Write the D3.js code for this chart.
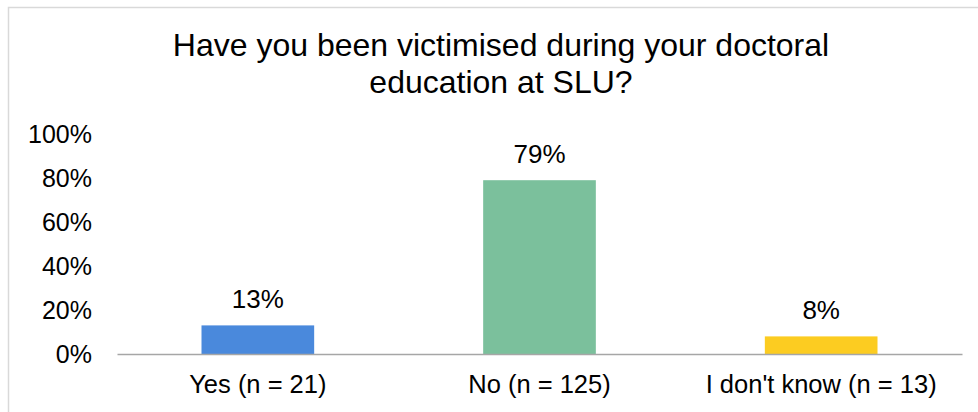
<!DOCTYPE html>
<html>
<head>
<meta charset="utf-8">
<script src="https://cdn.jsdelivr.net/npm/d3@7"></script>
<style>
  body { margin: 0; background: #fff; }
  text { font-family: "Liberation Sans", Arial, sans-serif; fill: #000; }
</style>
</head>
<body>
<div id="chart"></div>
<script>
"use strict";

// chart values
const categories = ["Yes (n = 21)", "No (n = 125)", "I don't know (n = 13)"];
const shares = [0.13, 0.79, 0.08];
const barColors = ["#4a89dc", "#7bc09c", "#fccc21"];
const yTicks = [0, 0.2, 0.4, 0.6, 0.8, 1.0];
const titleLines = ["Have you been victimised during your doctoral", "education at SLU?"];

const msm = {
    width: 978,
    height: 412,
    left: 117,
    right: 962,
    top: 134,
    bottom: 354
}

let svg = d3.select("#chart")
    .append("svg")
    .attr("width", msm.width)
    .attr("height", msm.height);

// light frame round the chart area
svg.append("rect")
    .attr("x", 8.5)
    .attr("y", 7.5)
    .attr("width", 1000)
    .attr("height", 500)
    .attr("fill", "none")
    .attr("stroke", "#d9d9d9")
    .attr("stroke-width", 1.5);

// title
svg.selectAll(".title")
    .data(titleLines)
    .enter()
    .append("text")
    .attr("class", "title")
    .attr("x", 501)
    .attr("y", (d, i) => 56 + i * 37)
    .attr("text-anchor", "middle")
    .style("font-size", "32px")
    .text(d => d);

let xScale = d3.scaleBand()
    .domain(categories)
    .range([msm.left, msm.right])
    .paddingInner(0.6)
    .paddingOuter(0.3);

let yScale = d3.scaleLinear()
    .domain([0, 1])
    .range([msm.bottom, msm.top]);

// y axis labels only, no line
let yAxis = d3.axisLeft(yScale)
    .tickValues(yTicks)
    .tickFormat(d3.format(".0%"))
    .tickSize(0)
    .tickPadding(0);
let gy = svg.append("g")
    .attr("transform", "translate(92,0)")
    .call(yAxis);
gy.select(".domain").remove();
gy.selectAll("text")
    .style("font-size", "25px")
    .attr("font-family", null)
    .attr("dy", "0.35em");

// bars
svg.selectAll(".bar")
    .data(shares)
    .enter()
    .append("rect")
    .attr("class", "bar")
    .attr("x", (d, i) => xScale(categories[i]))
    .attr("y", d => yScale(d))
    .attr("width", xScale.bandwidth())
    .attr("height", d => yScale(0) - yScale(d))
    .attr("fill", (d, i) => barColors[i]);

// value labels
svg.selectAll(".val")
    .data(shares)
    .enter()
    .append("text")
    .attr("class", "val")
    .attr("x", (d, i) => xScale(categories[i]) + xScale.bandwidth() / 2)
    .attr("y", d => yScale(d) - 17)
    .attr("text-anchor", "middle")
    .style("font-size", "26px")
    .text(d => d3.format(".0%")(d));

// x axis baseline and category labels
let xAxis = d3.axisBottom(xScale).tickSize(0).tickPadding(0);
let gx = svg.append("g")
    .attr("transform", "translate(0," + msm.bottom + ")")
    .call(xAxis);
gx.select(".domain")
    .attr("stroke", "#a6a6a6")
    .attr("stroke-width", 1.5);
gx.selectAll("text")
    .style("font-size", "25.5px")
    .attr("font-family", null)
    .attr("dy", null)
    .attr("y", 39);
</script>
</body>
</html>
